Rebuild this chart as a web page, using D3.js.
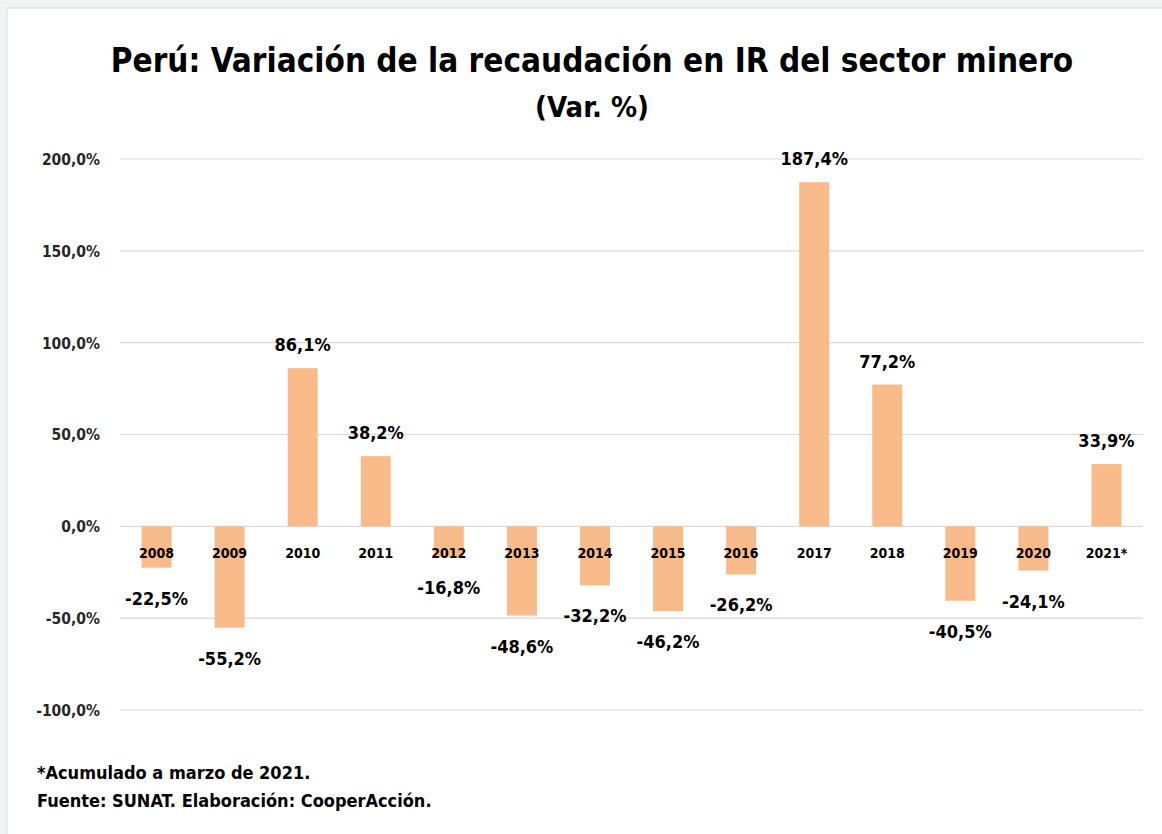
<!DOCTYPE html>
<html><head><meta charset="utf-8">
<script src="https://cdn.jsdelivr.net/npm/d3@7/dist/d3.min.js"></script>
<style>
html,body{margin:0;padding:0;background:#f2f3f3;}
svg{display:block;}
text{font-family:"Liberation Sans Narrow","DejaVu Sans Condensed","Arial Narrow",sans-serif;font-weight:bold;}
</style></head>
<body>
<svg id="chart" width="1162" height="834"></svg>
<script>
const categories = ["2008","2009","2010","2011","2012","2013","2014","2015","2016","2017","2018","2019","2020","2021*"];
const values = [-22.5,-55.2,86.1,38.2,-16.8,-48.6,-32.2,-46.2,-26.2,187.4,77.2,-40.5,-24.1,33.9];
const yTicks = [-100,-50,0,50,100,150,200];
const title = "Perú: Variación  de la recaudación  en IR del sector minero";
const subtitle = "(Var. %)";
const notes = ["*Acumulado a marzo de 2021.", "Fuente: SUNAT. Elaboración: CooperAcción."];

const locale = d3.formatLocale({decimal:",",thousands:".",grouping:[3],currency:["","€"],minus:"-"});
const fmt = v => locale.format(".1f")(v) + "%";

const svg = d3.select("#chart");
svg.append("rect").attr("x",7).attr("y",8).attr("width",1162).attr("height",834)
  .attr("fill","#fff").attr("stroke","#d9d9d9");

const x = d3.scaleBand().domain(categories).range([120,1143]).paddingInner(0.59).paddingOuter(0.295);
const y = d3.scaleLinear().domain([-100,200]).range([710,159]);

// gridlines
svg.append("g").selectAll("line").data(yTicks).join("line")
  .attr("x1",120).attr("x2",1143).attr("y1",d=>y(d)).attr("y2",d=>y(d))
  .attr("stroke","#d9d9d9").attr("stroke-width",1.2);

// y axis labels
const yAxis = d3.axisLeft(y).tickValues(yTicks).tickFormat(d=>locale.format(".1f")(d)+"%").tickSize(0).tickPadding(0);
const ga = svg.append("g").attr("transform","translate(100,0)").call(yAxis);
ga.select(".domain").remove();
ga.selectAll("text").attr("fill","#262626").style("font-size","15.5px").style("font-family",null).attr("dy","0.35em");

// bars
svg.append("g").selectAll("rect").data(values).join("rect")
  .attr("x",(d,i)=>x(categories[i]))
  .attr("width",x.bandwidth())
  .attr("y",d=>y(Math.max(0,d)))
  .attr("height",d=>Math.abs(y(d)-y(0)))
  .attr("fill","#F9BB8A");

// x labels
svg.append("g").selectAll("text").data(categories).join("text")
  .attr("x",d=>x(d)+x.bandwidth()/2).attr("y",y(0)+32)
  .attr("text-anchor","middle").attr("fill","#000").style("font-size","14px")
  .text(d=>d);

// value labels
svg.append("g").selectAll("text").data(values).join("text")
  .attr("x",(d,i)=>x(categories[i])+x.bandwidth()/2)
  .attr("y",d=> d>=0 ? y(d)-17 : y(d)+37)
  .attr("text-anchor","middle").attr("fill","#000").style("font-size","18px")
  .text(d=>fmt(d));

// titles
svg.append("text").attr("x",592).attr("y",72).attr("text-anchor","middle")
  .style("font-size","33px").attr("fill","#000").text(title);
svg.append("text").attr("x",592).attr("y",117).attr("text-anchor","middle")
  .style("font-size","29px").attr("fill","#000").text(subtitle);

// notes
svg.append("g").selectAll("text").data(notes).join("text")
  .attr("x",37).attr("y",(d,i)=>779+i*28).style("font-size","18px").attr("fill","#000").text(d=>d);
</script>
</body></html>
